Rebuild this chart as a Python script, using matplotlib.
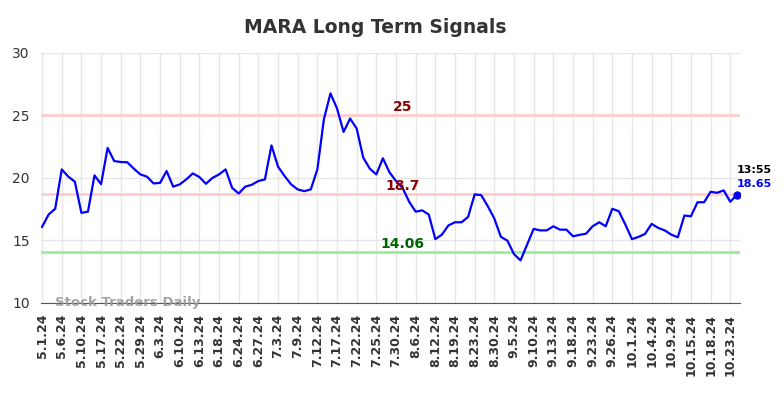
import matplotlib.pyplot as plt

# Closing prices (one point per session)
prices = [
    16.08, 17.07, 17.53, 20.68, 20.10, 19.70, 17.20, 17.30, 20.20, 19.50,
    22.40, 21.35, 21.27, 21.25, 20.74, 20.28, 20.10, 19.56, 19.60, 20.55,
    19.30, 19.48, 19.88, 20.36, 20.07, 19.53, 20.00, 20.28, 20.68, 19.20,
    18.75, 19.30, 19.45, 19.75, 19.88, 22.60, 20.90, 20.15, 19.48, 19.08,
    18.94, 19.08, 20.68, 24.70, 26.76, 25.56, 23.68, 24.75, 23.95, 21.62,
    20.74, 20.28, 21.57, 20.45, 19.75, 19.20, 18.10, 17.30, 17.40, 17.07,
    15.10, 15.46, 16.20, 16.45, 16.45, 16.88, 18.68, 18.62, 17.74, 16.75,
    15.28, 14.98, 13.90, 13.40, 14.66, 15.92, 15.80, 15.80, 16.13, 15.86,
    15.86, 15.33, 15.44, 15.54, 16.13, 16.45, 16.13, 17.53, 17.33, 16.26,
    15.10, 15.28, 15.52, 16.32, 16.00, 15.80, 15.46, 15.25, 16.99, 16.93,
    18.05, 18.05, 18.89, 18.81, 19.00, 18.09, 18.65,
]

tick_labels = [
    '5.1.24', '5.6.24', '5.10.24', '5.17.24', '5.22.24', '5.29.24', '6.3.24',
    '6.10.24', '6.13.24', '6.18.24', '6.24.24', '6.27.24', '7.3.24', '7.9.24',
    '7.12.24', '7.17.24', '7.22.24', '7.25.24', '7.30.24', '8.6.24', '8.12.24',
    '8.19.24', '8.23.24', '8.30.24', '9.5.24', '9.10.24', '9.13.24', '9.18.24',
    '9.23.24', '9.26.24', '10.1.24', '10.4.24', '10.9.24', '10.15.24',
    '10.18.24', '10.23.24',
]
tick_step = 3

resistance_hi = 25
resistance_lo = 18.7
support = 14.06
last_time = '13:55'

fig = plt.figure(figsize=(7.84, 3.98), dpi=100)
ax = fig.add_axes([0.052, 0.239, 0.892, 0.628])

x = list(range(len(prices)))

# signal lines
ax.axhline(resistance_hi, color='#ffcccc', linewidth=2, zorder=1)
ax.axhline(resistance_lo, color='#ffcccc', linewidth=2, zorder=1)
ax.axhline(support, color='#99ee99', linewidth=2, zorder=1)

ax.plot(x, prices, color='#0000ff', linewidth=1.6, zorder=3)
ax.plot(x[-1], prices[-1], 'o', color='#0000ff', markersize=5, zorder=4)

mid = 55
ax.text(mid, resistance_hi + 0.65, f'{resistance_hi:g}', color='#8b0000',
        fontsize=10, fontweight='bold', ha='center', va='center')
ax.text(mid, resistance_lo + 0.65, f'{resistance_lo:g}', color='#8b0000',
        fontsize=10, fontweight='bold', ha='center', va='center')
ax.text(mid, support + 0.65, f'{support:.2f}', color='#006400',
        fontsize=10, fontweight='bold', ha='center', va='center')

ax.text(x[-1], prices[-1] + 1.95, last_time, color='black', fontsize=8,
        fontweight='bold', ha='left', va='center')
ax.text(x[-1], prices[-1] + 0.9, f'{prices[-1]:.2f}', color='#0000ff',
        fontsize=8, fontweight='bold', ha='left', va='center')

ax.text(2, 10.0, 'Stock Traders Daily', color='#999999', fontsize=9.5,
        fontweight='bold', ha='left', va='center', alpha=0.9)

ax.set_xlim(-0.2, len(prices) - 0.5)
ax.set_ylim(10, 30)
ax.set_yticks([10, 15, 20, 25, 30])
ax.set_xticks(range(0, len(tick_labels) * tick_step, tick_step))
ax.set_xticklabels(tick_labels, rotation=90, fontsize=9, fontweight='bold')

ax.grid(True, color='#e6e6e6', linewidth=1)
ax.set_axisbelow(True)
for side in ['top', 'right', 'left']:
    ax.spines[side].set_visible(False)
ax.spines['bottom'].set_color('#555555')
ax.tick_params(axis='both', length=0, colors='#333333')
ax.tick_params(axis='y', labelsize=10, pad=8)
ax.tick_params(axis='x', pad=8)

fig.suptitle('MARA Long Term Signals', fontsize=13.5, fontweight='bold',
             color='#333333', x=0.478, y=0.955)

plt.savefig('out.png', dpi=100)
